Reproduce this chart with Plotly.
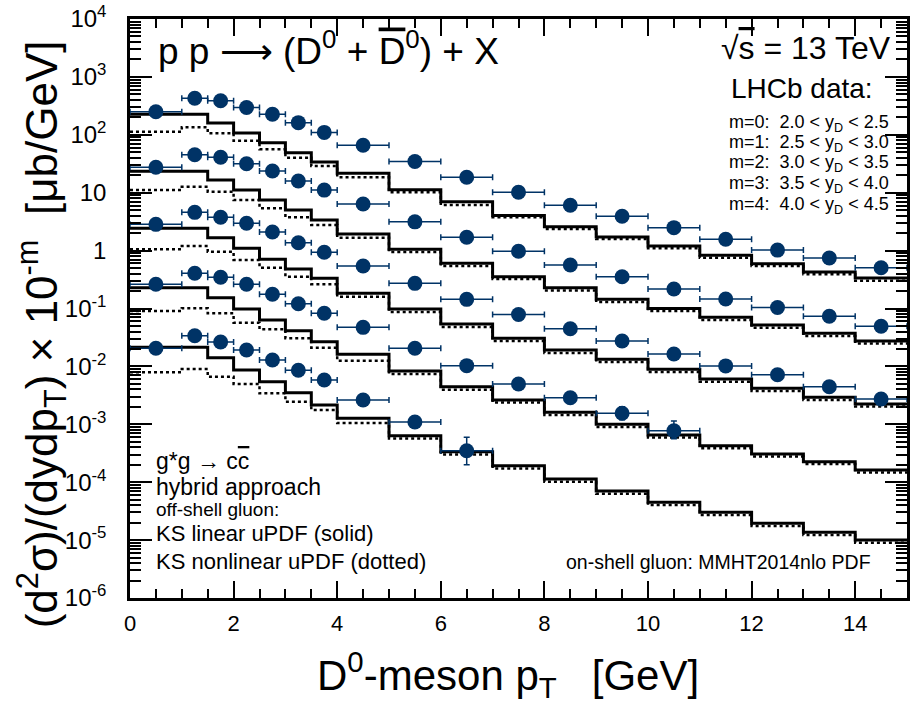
import plotly.graph_objects as go

# pT binning (GeV): data points and model histograms share these edges
bin_edges = [0, 1, 1.5, 2, 2.5, 3, 3.5, 4, 5, 6, 7, 8, 9, 10, 11, 12, 13, 14, 15]
pt_centers = [0.5, 1.25, 1.75, 2.25, 2.75, 3.25, 3.75, 4.5, 5.5, 6.5, 7.5,
              8.5, 9.5, 10.5, 11.5, 12.5, 13.5, 14.5]
pt_halfwidth = [0.5, 0.25, 0.25, 0.25, 0.25, 0.25, 0.25, 0.5, 0.5, 0.5, 0.5,
                0.5, 0.5, 0.5, 0.5, 0.5, 0.5, 0.5]

# LHCb D0+D0bar cross sections [ub/GeV], unscaled, one list per rapidity bin m
lhcb_m0 = [250, 427, 388, 296, 226, 162, 110, 66.0, 34.6, 18.5, 10.2, 6.08,
           3.91, 2.49, 1.57, 1.02, 0.745, 0.507]
lhcb_m1 = [275, 453, 409, 317, 237, 159, 111, 63.8, 31.4, 17.0, 9.77, 5.64,
           3.54, 2.17, 1.46, 1.04, 0.733, 0.493]
lhcb_m2 = [284, 458, 376, 296, 210, 137, 93.5, 54.2, 27.2, 14.4, 7.87, 4.48,
           2.75, 1.64, 1.02, 0.719, 0.446, 0.274]
lhcb_m3 = [262, 406, 346, 262, 176, 121, 83.0, 47.3, 20.6, 10.3, 4.97, 2.88,
           1.55, 0.775]
lhcb_m4 = [206, 339, 264, 192, 129, 85.7, 58.2, 26.3, 10.96, 3.50]

# visible vertical uncertainties (unscaled), others hidden behind the markers
lhcb_m3_err_up = [0]*12 + [0.46, 0.365]
lhcb_m3_err_dn = [0]*12 + [0.35, 0.21]
lhcb_m4_err_up = [0]*9 + [2.46]
lhcb_m4_err_dn = [0]*9 + [1.49]

# hybrid g*g -> c cbar, KS linear uPDF (solid)
ks_lin_m0 = [226, 226, 160, 107, 73.1, 49.1, 33.9, 21.6, 11.3, 7.0, 4.04, 2.59,
             1.72, 1.20, 0.830, 0.594, 0.427, 0.336]
ks_lin_m1 = [234, 234, 166, 111, 74.8, 50.3, 33.8, 19.4, 10.5, 6.04, 3.54, 2.29,
             1.44, 1.00, 0.705, 0.519, 0.373, 0.275]
ks_lin_m2 = [243, 243, 167, 110, 70.8, 48.1, 33.3, 18.3, 9.8, 5.40, 3.06, 1.92,
             1.33, 0.891, 0.605, 0.419, 0.292, 0.224]
ks_lin_m3 = [229, 229, 154, 98, 63.3, 41.4, 26.7, 16.2, 8.34, 4.46, 2.63, 1.61,
             1.00, 0.653, 0.427, 0.307, 0.226, 0.163]
ks_lin_m4 = [214, 214, 141, 86.7, 54.4, 35.2, 21.5, 12.7, 6.35, 3.36, 1.93, 1.135,
             0.705, 0.450, 0.302, 0.195, 0.136, 0.100]

# hybrid g*g -> c cbar, KS nonlinear uPDF (dotted)
ks_nlin_m0 = [113, 135, 106, 79.1, 56.2, 40.2, 28.9, 18.5, 10.2, 6.13, 3.76, 2.36,
              1.58, 1.10, 0.754, 0.542, 0.390, 0.302]
ks_nlin_m1 = [111, 127, 104, 74.8, 53.8, 37.6, 27.7, 16.7, 9.46, 5.42, 3.23, 2.05,
              1.29, 0.906, 0.633, 0.466, 0.335, 0.249]
ks_nlin_m2 = [105, 120, 95.7, 68.9, 50.7, 35.4, 26.2, 16.0, 8.71, 4.79, 2.75, 1.70,
              1.19, 0.80, 0.544, 0.376, 0.263, 0.203]
ks_nlin_m3 = [90.6, 101, 82.6, 56.9, 43.8, 30.6, 21.0, 12.5, 7.40, 3.96, 2.38, 1.45,
              0.897, 0.592, 0.385, 0.278, 0.206, 0.147]
ks_nlin_m4 = [79, 90.2, 66.4, 49.7, 34.3, 24.5, 17.7, 10.5, 5.69, 3.00, 1.73, 1.02,
              0.632, 0.404, 0.272, 0.175, 0.122, 0.090]

rapidity_labels = ["2.0 < y<sub>D</sub> < 2.5", "2.5 < y<sub>D</sub> < 3.0",
                   "3.0 < y<sub>D</sub> < 3.5", "3.5 < y<sub>D</sub> < 4.0",
                   "4.0 < y<sub>D</sub> < 4.5"]

y_tick_vals = [1e-6, 1e-5, 1e-4, 1e-3, 1e-2, 1e-1, 1, 10, 1e2, 1e3, 1e4]
y_tick_text = ["10<sup>-6</sup>", "10<sup>-5</sup>", "10<sup>-4</sup>",
               "10<sup>-3</sup>", "10<sup>-2</sup>", "10<sup>-1</sup>",
               "1", "10", "10<sup>2</sup>", "10<sup>3</sup>", "10<sup>4</sup>"]
x_tick_vals = [0, 2, 4, 6, 8, 10, 12, 14]

lhcb = [lhcb_m0, lhcb_m1, lhcb_m2, lhcb_m3, lhcb_m4]
ks_lin = [ks_lin_m0, ks_lin_m1, ks_lin_m2, ks_lin_m3, ks_lin_m4]
ks_nlin = [ks_nlin_m0, ks_nlin_m1, ks_nlin_m2, ks_nlin_m3, ks_nlin_m4]
err_up = {3: lhcb_m3_err_up, 4: lhcb_m4_err_up}
err_dn = {3: lhcb_m3_err_dn, 4: lhcb_m4_err_dn}

FONT = "Liberation Sans, Arial, Helvetica, sans-serif"
NAVY = "#003366"

fig = go.Figure()


def step_trace(vals, scale, dash, width):
    ys = [v * scale for v in vals]
    return go.Scatter(x=bin_edges, y=ys + [ys[-1]], mode="lines",
                      line=dict(shape="hv", color="black", width=width, dash=dash),
                      hoverinfo="skip", showlegend=False)


for m in range(5):
    scale = 10.0 ** (-m)
    fig.add_trace(step_trace(ks_nlin[m], scale, "dot", 2.5))
    fig.add_trace(step_trace(ks_lin[m], scale, "solid", 3))

for m in range(5):
    scale = 10.0 ** (-m)
    n = len(lhcb[m])
    ey = None
    if m in err_up:
        ey = dict(type="data", symmetric=False,
                  array=[e * scale for e in err_up[m]],
                  arrayminus=[e * scale for e in err_dn[m]],
                  color=NAVY, thickness=1.5, width=3)
    fig.add_trace(go.Scatter(
        x=pt_centers[:n], y=[v * scale for v in lhcb[m]], mode="markers",
        marker=dict(symbol="circle", size=15, color=NAVY),
        error_x=dict(type="data", array=pt_halfwidth[:n], color=NAVY,
                     thickness=1.5, width=3),
        error_y=ey, showlegend=False))

L, R, T, B = 130, 1, 19, 107
W, H = 911, 705


def px(xp):
    return (xp - L) / (W - L - R)


def py(yp):
    return (H - B - yp) / (H - T - B)


ann = []


def text(s, x, y, size, xanchor="left", angle=0):
    ann.append(dict(text=s, x=px(x), y=py(y), xref="paper", yref="paper",
                    xanchor=xanchor, yanchor="middle", showarrow=False,
                    textangle=angle, font=dict(family=FONT, size=size, color="black")))


OV = "<span style='text-decoration:overline'>%s</span>"

text("p p ⟶ (D<sup>0</sup> + " + OV % "D" + "<sup>0</sup>) + X", 156, 48, 37)
text("√" + OV % "s" + " = 13 TeV", 896, 48, 32, xanchor="right")
text("LHCb data:", 731, 89, 28)
for m, lab in enumerate(rapidity_labels):
    text("m=%d:  %s" % (m, lab), 729, 123 + 20.5 * m, 18)
text("g*g → c" + OV % "c", 154, 461, 23)
text("hybrid approach", 154, 487, 23)
text("off-shell gluon:", 154, 509, 19)
text("KS linear uPDF (solid)", 154, 533, 22)
text("KS nonlinear uPDF (dotted)", 154, 561, 22)
text("on-shell gluon: MMHT2014nlo PDF", 876, 562, 19.5, xanchor="right")
text("D<sup>0</sup>-meson p<sub>T</sub>   [GeV]", 509, 674, 42, xanchor="center")
text("(d<sup>2</sup>σ)/(dydp<sub>T</sub>) × 10<sup>-m</sup>  [μb/GeV]", 42, 334, 44,
     xanchor="center", angle=-90)

fig.update_layout(
    width=W, height=H, margin=dict(l=L, r=R, t=T, b=B),
    paper_bgcolor="white", plot_bgcolor="white",
    font=dict(family=FONT, color="black"),
    annotations=ann,
    xaxis=dict(range=[0, 15], showgrid=False, zeroline=False,
               showline=True, linecolor="black", linewidth=2.5, mirror="allticks",
               ticks="inside", ticklen=17, tickwidth=1.5, tickcolor="black",
               tickmode="array", tickvals=x_tick_vals,
               ticktext=[str(v) for v in x_tick_vals],
               tickfont=dict(family=FONT, size=22), ticklabelstandoff=4,
               minor=dict(ticks="inside", ticklen=9, tickwidth=1.5,
                          tickcolor="black", dtick=0.5, showgrid=False)),
    yaxis=dict(type="log", range=[-6, 4], showgrid=False, zeroline=False,
               showline=True, linecolor="black", linewidth=2.5, mirror="allticks",
               ticks="inside", ticklen=22, tickwidth=1.5, tickcolor="black",
               tickmode="array", tickvals=y_tick_vals, ticktext=y_tick_text,
               tickfont=dict(family=FONT, size=24), ticklabelstandoff=16,
               minor=dict(ticks="inside", ticklen=11, tickwidth=1.5,
                          tickcolor="black", dtick="D1", showgrid=False)),
)

fig.write_html("out.html")
